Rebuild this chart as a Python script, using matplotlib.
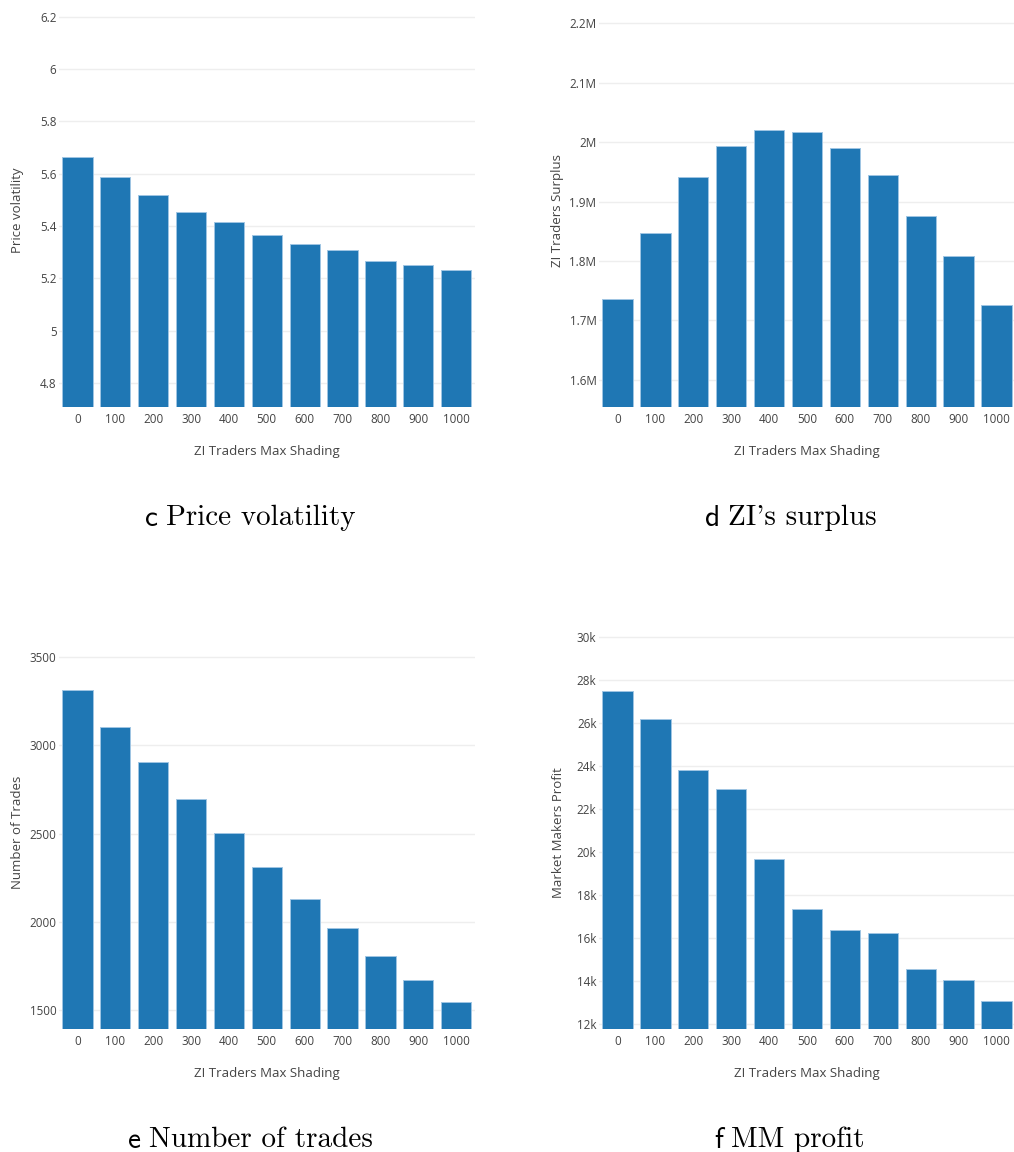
import matplotlib
matplotlib.use("Agg")
import matplotlib.pyplot as plt
import numpy as np

plt.rcParams['font.family'] = ['Open Sans', 'DejaVu Sans']

# Shared x categories
shading = ['0', '100', '200', '300', '400', '500', '600', '700', '800', '900', '1000']

# c: price volatility
volatility = [5.662, 5.589, 5.518, 5.455, 5.414, 5.367, 5.330, 5.307, 5.265, 5.250, 5.233]
vol_ticks = [4.8, 5.0, 5.2, 5.4, 5.6, 5.8, 6.0, 6.2]
vol_labels = ['4.8', '5', '5.2', '5.4', '5.6', '5.8', '6', '6.2']

# d: ZI traders surplus
surplus = [1.736e6, 1.8475e6, 1.942e6, 1.993e6, 2.020e6, 2.0175e6, 1.990e6, 1.945e6, 1.8756e6, 1.808e6, 1.726e6]
sur_ticks = [1.6e6, 1.7e6, 1.8e6, 1.9e6, 2.0e6, 2.1e6, 2.2e6]
sur_labels = ['1.6M', '1.7M', '1.8M', '1.9M', '2M', '2.1M', '2.2M']

# e: number of trades
trades = [3313, 3107, 2908, 2698, 2502, 2313, 2131, 1967, 1808, 1672, 1545]
trd_ticks = [1500, 2000, 2500, 3000, 3500]
trd_labels = ['1500', '2000', '2500', '3000', '3500']

# f: market makers profit
mm_profit = [27475, 26189, 23803, 22905, 19667, 17328, 16383, 16212, 14539, 14028, 13067]
mm_ticks = [12000, 14000, 16000, 18000, 20000, 22000, 24000, 26000, 28000, 30000]
mm_labels = ['12k', '14k', '16k', '18k', '20k', '22k', '24k', '26k', '28k', '30k']

# sub-figure captions: letter + title
cap_letters = ['c', 'd', 'e', 'f']
cap_titles = ['Price volatility', "ZI's surplus", 'Number of trades', 'MM profit']

W, H = 1014, 1152
fig = plt.figure(figsize=(W / 100, H / 100), dpi=100)

BAR = '#1f77b4'
EDGE = '#9fc5e3'
GRID = '#eeeeee'
TXT = '#444444'


def panel(left, top, right, bottom, values, ylim, ticks, labels, ylabel):
    ax = fig.add_axes([left / W, 1 - bottom / H, (right - left) / W, (bottom - top) / H])
    x = np.arange(len(shading))
    ax.bar(x, values, width=0.8, color=BAR, edgecolor=EDGE, linewidth=0.7, zorder=2)
    ax.set_xlim(-0.5, len(shading) - 0.5)
    ax.set_ylim(*ylim)
    ax.set_xticks(x, shading)
    ax.set_yticks(ticks, labels)
    ax.grid(axis='y', color=GRID, linewidth=1, zorder=0)
    for s in ax.spines.values():
        s.set_visible(False)
    ax.tick_params(length=0, colors=TXT, labelsize=8.4)
    ax.tick_params(axis='x', pad=4)
    ax.tick_params(axis='y', pad=1.5)
    ax.set_xlabel('ZI Traders Max Shading', fontsize=9.5, color=TXT)
    ax.xaxis.set_label_coords(0.5, -44 / (bottom - top))
    ax.xaxis.label.set_va('center')
    ax.set_ylabel(ylabel, fontsize=9.5, color=TXT)
    ax.yaxis.set_label_coords(-40.5 / (right - left), 0.5)
    ax.yaxis.label.set_va('center')
    return ax


panel(58.5, 14, 475.1, 407.3, volatility, (4.708, 6.21), vol_ticks, vol_labels, 'Price volatility')
panel(598.5, 14, 1015.5, 407.3, surplus, (1.5535e6, 2.2157e6), sur_ticks, sur_labels, 'ZI Traders Surplus')
panel(58.5, 636, 475.1, 1029, trades, (1392, 3621), trd_ticks, trd_labels, 'Number of Trades')
panel(598.5, 636, 1015.5, 1029, mm_profit, (11768, 30033), mm_ticks, mm_labels, 'Market Makers Profit')

# captions: sans letter followed by a serif title, centred as one line
cap_pos = [(250, 515), (791, 515), (250, 1137), (789, 1137)]
renderer = fig.canvas.get_renderer()
gap = 8
for (cx, cy), letter, title in zip(cap_pos, cap_letters, cap_titles):
    t1 = fig.text(0, 1 - cy / H, letter, family='cmss10', fontsize=21,
                  ha='left', va='center_baseline')
    t2 = fig.text(0, 1 - cy / H, title, family='cmr10', fontsize=21,
                  ha='left', va='center_baseline')
    w1 = t1.get_window_extent(renderer).width
    w2 = t2.get_window_extent(renderer).width
    x0 = cx - (w1 + gap + w2) / 2
    t1.set_x(x0 / W)
    t2.set_x((x0 + w1 + gap) / W)

fig.savefig('out.png', dpi=100)
